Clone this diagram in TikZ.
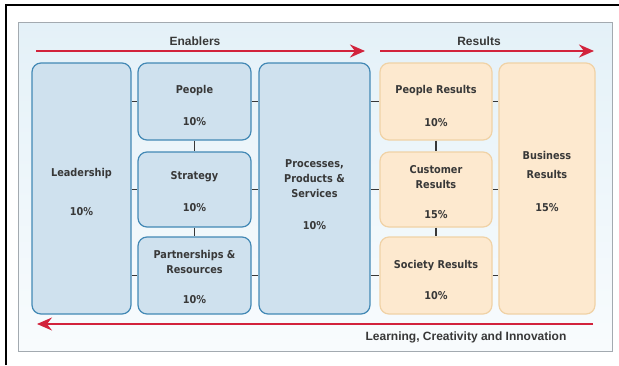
\documentclass[tikz,border=0pt]{standalone}
\usepackage{fontspec}
\setmainfont{DejaVu Sans Condensed}
\newfontfamily\headfont{Liberation Sans}
\usetikzlibrary{arrows.meta}

\definecolor{edgeblue}{HTML}{4389B5}
\definecolor{fillblue}{HTML}{CFE1EE}
\definecolor{edgeorange}{HTML}{F0D2A6}
\definecolor{fillorange}{HTML}{FDE9CF}
\definecolor{panelblue}{HTML}{E4F1F8}
\definecolor{panelgray}{HTML}{A3AAB0}
\definecolor{flowred}{HTML}{D2233C}
\definecolor{textgray}{HTML}{383838}

\tikzset{
  enabler/.style={draw=edgeblue, fill=fillblue, line width=1.2pt, rounded corners=9pt},
  result/.style={enabler, draw=edgeorange, fill=fillorange},
  boxtext/.style={align=center, text=textgray, font=\bfseries\fontsize{10.8}{15}\selectfont},
  link/.style={draw=textgray, line width=1.2pt},
  flow/.style={draw=flowred, line width=2.4pt, -{Stealth[length=15pt,width=13pt,inset=5pt]}},
  heading/.style={text=textgray, font=\headfont\bfseries\fontsize{12}{14}\selectfont}
}

\begin{document}
\begin{tikzpicture}[x=1pt,y=-1pt]
        \useasboundingbox (0,0) rectangle (619,365);
        % frame and panel
        \draw[line width=1.2pt] (6,365) -- (6,5) -- (619,5);
        \draw[draw=panelgray, top color=panelblue, bottom color=panelblue!25] (18,22) rectangle (612,351);

        % enablers
        \node[enabler, minimum width=99pt, minimum height=251pt] (lead) at (81.5,188.5) {};
        \node[enabler, minimum width=113pt, minimum height=77pt] (ppl) at (194.5,101.5) {};
        \node[enabler, minimum width=113pt, minimum height=75pt] (str) at (194.5,189.5) {};
        \node[enabler, minimum width=113pt, minimum height=77pt] (prt) at (194.5,275.5) {};
        \node[enabler, minimum width=111pt, minimum height=251pt] (proc) at (314.5,188.5) {};
        \node[boxtext] (leadtxt) at (81.5,191.5) {Leadership\\[24pt]10\%};
        \node[boxtext] (ppltxt) at (194.5,105.5) {People\\[17pt]10\%};
        \node[boxtext] (strtxt) at (194.5,191.5) {Strategy\\[17pt]10\%};
        \node[boxtext] (prttxt) at (194.5,277) {Partnerships \&\\Resources\\[15pt]10\%};
        \node[boxtext] (proctxt) at (314.5,194.5) {Processes,\\Products \&\\Services\\[17pt]10\%};

        % results
        \node[result, minimum width=112pt, minimum height=77pt] (pres) at (436,101.5) {};
        \node[result, minimum width=112pt, minimum height=75pt] (cres) at (436,189.5) {};
        \node[result, minimum width=112pt, minimum height=77pt] (sres) at (436,275.5) {};
        \node[result, minimum width=96pt, minimum height=251pt] (bres) at (547,188.5) {};
        \node[boxtext] (prestxt) at (436,106) {People Results\\[18pt]10\%};
        \node[boxtext] (crestxt) at (436,192.5) {Customer\\Results\\[15pt]15\%};
        \node[boxtext] (srestxt) at (436,279.5) {Society Results\\[16pt]10\%};
        \node[boxtext] (brestxt) at (547,181.5) {Business\\[4pt]Results\\[18pt]15\%};

        % links between the boxes
        \draw[link] (lead.east |- ppl.west) -- (ppl.west);
        \draw[link] (lead.east |- str.west) -- (str.west);
        \draw[link] (lead.east |- prt.west) -- (prt.west);
        \draw[link] (ppl.east) -- (ppl.east -| proc.west);
        \draw[link] (str.east) -- (str.east -| proc.west);
        \draw[link] (prt.east) -- (prt.east -| proc.west);
        \draw[link] (proc.east |- pres.west) -- (pres.west);
        \draw[link] (proc.east |- cres.west) -- (cres.west);
        \draw[link] (proc.east |- sres.west) -- (sres.west);
        \draw[link] (pres.east) -- (pres.east -| bres.west);
        \draw[link] (cres.east) -- (cres.east -| bres.west);
        \draw[link] (sres.east) -- (sres.east -| bres.west);
        \draw[link] (ppl.south) -- (str.north);
        \draw[link] (str.south) -- (prt.north);
        \draw[link] (pres.south) -- (cres.north);
        \draw[link] (cres.south) -- (sres.north);

        % flow arrows
        \coordinate (enabStart) at (36,51);
        \coordinate (enabEnd) at (365,51);
        \coordinate (resStart) at (380,51);
        \coordinate (resEnd) at (594,51);
        \coordinate (learnStart) at (593,324);
        \coordinate (learnEnd) at (37,324);
        \draw[flow] (enabStart) -- (enabEnd);
        \draw[flow] (resStart) -- (resEnd);
        \draw[flow, line width=1.4pt] (learnStart) -- (learnEnd);
        \node[heading] (enab) at (195,41) {Enablers};
        \node[heading] (res) at (479,41) {Results};
        \node[heading] (learn) at (466,337) {Learning, Creativity and Innovation};
      \end{tikzpicture}
\end{document}
